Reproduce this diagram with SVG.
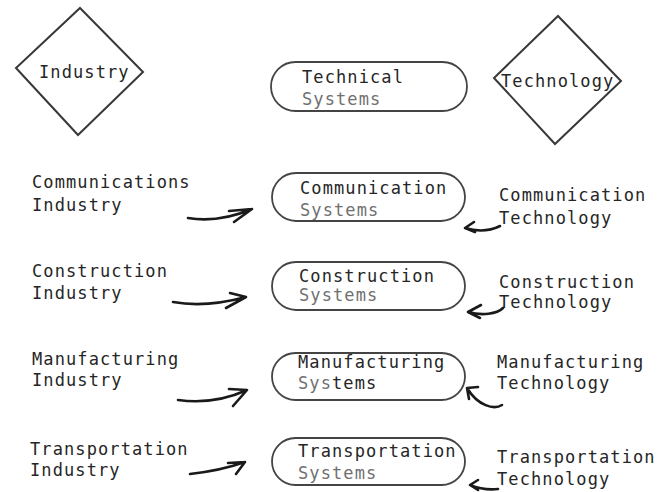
<svg xmlns="http://www.w3.org/2000/svg" width="663" height="492" viewBox="0 0 663 492">
<style>
.t{font-family:"DejaVu Sans Mono","Liberation Mono",monospace;font-size:17px;letter-spacing:1.1px;fill:#262626}
.g{fill:#707070}
.pill{fill:none;stroke:#444;stroke-width:1.8}
.dia{fill:none;stroke:#383838;stroke-width:2}
.arr{fill:none;stroke:#1a1a1a;stroke-width:2.6;stroke-linecap:round;stroke-linejoin:round}
</style>
<rect width="663" height="492" fill="#fff"/>
<g id="industry">
<polygon class="dia" points="80,8 143,72 78,135 16,68"/>
<text class="t" x="39" y="78">Industry</text>
</g>
<g id="technical-systems">
<rect class="pill" x="271" y="62" width="196" height="49" rx="24.5"/>
<text class="t" x="302" y="83">Technical</text>
<text class="t g" x="302" y="105">Systems</text>
</g>
<g id="technology">
<polygon class="dia" points="558,16 621,81 555,144 494,78"/>
<text class="t" x="501" y="87">Technology</text>
</g>
<g id="comm-industry"><text class="t" x="32" y="188">Communications</text><text class="t" x="32" y="211">Industry</text></g>
<g id="comm-systems">
<rect class="pill" x="272" y="173" width="193" height="48" rx="24"/>
<text class="t" x="300" y="194">Communication</text>
<text class="t g" x="300" y="216">Systems</text>
</g>
<g id="comm-tech"><text class="t" x="499" y="201">Communication</text><text class="t" x="499" y="224">Technology</text></g>
<g id="cons-industry"><text class="t" x="32" y="277">Construction</text><text class="t" x="32" y="299">Industry</text></g>
<g id="cons-systems">
<rect class="pill" x="272" y="262" width="193" height="48" rx="24"/>
<text class="t" x="299" y="282">Construction</text>
<text class="t g" x="299" y="301">Systems</text>
</g>
<g id="cons-tech"><text class="t" x="499" y="288">Construction</text><text class="t" x="499" y="308">Technology</text></g>
<g id="manu-industry"><text class="t" x="32" y="365">Manufacturing</text><text class="t" x="32" y="386">Industry</text></g>
<g id="manu-systems">
<rect class="pill" x="272" y="353" width="193" height="47" rx="23.5"/>
<text class="t" x="298" y="368">Manufacturing</text>
<text class="t" x="298" y="389"><tspan class="g">Sys</tspan>tems</text>
</g>
<g id="manu-tech"><text class="t" x="497" y="368">Manufacturing</text><text class="t" x="497" y="389">Technology</text></g>
<g id="trans-industry"><text class="t" x="30" y="455">Transportation</text><text class="t" x="30" y="476">Industry</text></g>
<g id="trans-systems">
<rect class="pill" x="272" y="438" width="193" height="47" rx="23.5"/>
<text class="t" x="298" y="457">Transportation</text>
<text class="t g" x="298" y="479">Systems</text>
</g>
<g id="trans-tech"><text class="t" x="497" y="463">Transportation</text><text class="t" x="497" y="485">Technology</text></g>
<g id="connectors">
<path class="arr" d="M188,218 C205,221 228,219 252,209 M229,211 L252,209 L234,222"/>
<path class="arr" d="M173,302 C195,306 220,304 246,297 M230,293 L246,297 L226,308"/>
<path class="arr" d="M178,400 C200,403 225,400 247,390 M229,389 L247,390 L233,406"/>
<path class="arr" d="M190,474 C208,472 228,468 245,462 M228,463 L245,462 L236,474"/>
<path class="arr" d="M500,226 C490,231 478,232 465,228 M474,222 L465,228 L475,232"/>
<path class="arr" d="M503,308 C497,314 482,316 468,312 M481,305 L468,312 L480,318"/>
<path class="arr" d="M502,405 C494,410 478,406 467,388 M478,387 L467,388 L469,399"/>
<path class="arr" d="M498,489 C490,490 480,489 470,485 M478,480 L470,485 L478,490"/>
</g>
</svg>
